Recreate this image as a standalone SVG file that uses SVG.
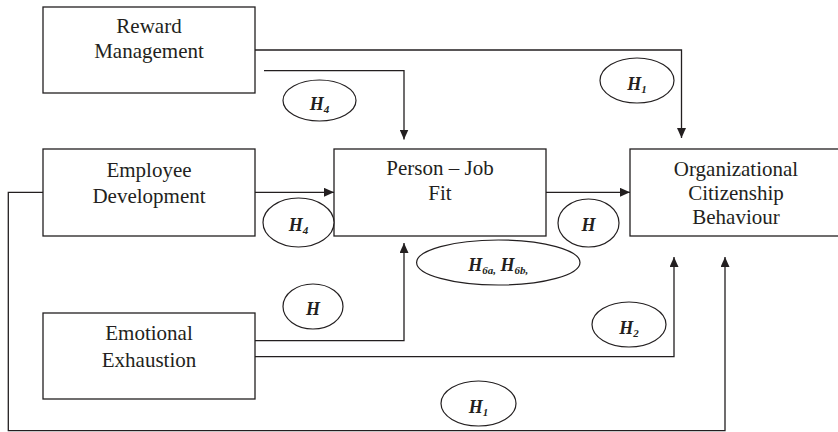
<svg xmlns="http://www.w3.org/2000/svg" width="838" height="432" viewBox="0 0 838 432">
<defs>
<style>
.box{fill:#fff;stroke:#231f20;stroke-width:1.3}
.lbl{font-family:'Liberation Serif',serif;font-size:21px;fill:#231f20;text-anchor:middle}
.hyp{fill:#fff;stroke:#231f20;stroke-width:1.2}
.ht{font-family:'Liberation Serif',serif;font-size:18px;font-weight:bold;font-style:italic;fill:#231f20;text-anchor:middle}
.sub{font-size:11px}
.conn{fill:none;stroke:#231f20;stroke-width:1.3}
</style>
<marker id="arr" markerUnits="userSpaceOnUse" markerWidth="10" markerHeight="9" refX="10" refY="4.5" orient="auto">
<path d="M0,0 L10,4.5 L0,9 z" fill="#231f20"/>
</marker>
</defs>
<rect width="838" height="432" fill="#fff"/>
<g id="connectors">
<path class="conn" d="M255,50 H681.5 V138" marker-end="url(#arr)"/>
<path class="conn" d="M264,70.7 H404 V139.5" marker-end="url(#arr)"/>
<path class="conn" d="M255,192.3 H334" marker-end="url(#arr)"/>
<path class="conn" d="M546,192.3 H630" marker-end="url(#arr)"/>
<path class="conn" d="M255,340.7 H404 V243" marker-end="url(#arr)"/>
<path class="conn" d="M255,356.7 H674 V257" marker-end="url(#arr)"/>
<path class="conn" d="M43,192.3 H8.3 V430.7 H725 V257" marker-end="url(#arr)"/>
</g>
<g id="node-reward">
<rect class="box" x="43" y="7" width="212" height="86"/>
<text class="lbl" x="149" y="33" font-family="Liberation Serif, serif">Reward</text>
<text class="lbl" x="149" y="58" font-family="Liberation Serif, serif">Management</text>
</g>
<g id="node-employee">
<rect class="box" x="43" y="149" width="212" height="87"/>
<text class="lbl" x="149" y="177">Employee</text>
<text class="lbl" x="149" y="203">Development</text>
</g>
<g id="node-pjfit">
<rect class="box" x="334" y="149" width="212" height="87"/>
<text class="lbl" x="440" y="175">Person – Job</text>
<text class="lbl" x="440" y="200">Fit</text>
</g>
<g id="node-ocb">
<rect class="box" x="630" y="149" width="215" height="87"/>
<text class="lbl" x="736" y="176">Organizational</text>
<text class="lbl" x="736" y="200">Citizenship</text>
<text class="lbl" x="736" y="224">Behaviour</text>
</g>
<g id="node-emotional">
<rect class="box" x="43" y="313" width="212" height="86"/>
<text class="lbl" x="149" y="340">Emotional</text>
<text class="lbl" x="149" y="367">Exhaustion</text>
</g>
<g id="hyp-h4-top">
<ellipse class="hyp" cx="319.5" cy="100.5" rx="36.5" ry="20.5"/>
<text class="ht" x="319.5" y="110">H<tspan class="sub" dy="3">4</tspan></text>
</g>
<g id="hyp-h1-top">
<ellipse class="hyp" cx="637" cy="80.5" rx="37" ry="22.5"/>
<text class="ht" x="637" y="90">H<tspan class="sub" dy="3">1</tspan></text>
</g>
<g id="hyp-h4-mid">
<ellipse class="hyp" cx="298.5" cy="222.5" rx="35.5" ry="24.5"/>
<text class="ht" x="298.5" y="231">H<tspan class="sub" dy="3">4</tspan></text>
</g>
<g id="hyp-h-mid">
<ellipse class="hyp" cx="588.5" cy="223" rx="30.5" ry="24"/>
<text class="ht" x="588.5" y="231">H</text>
</g>
<g id="hyp-h6">
<ellipse class="hyp" cx="498.3" cy="262.5" rx="81.7" ry="22.5"/>
<text class="ht" x="498.3" y="271">H<tspan class="sub" dy="3">6a,</tspan><tspan dy="-3"> H</tspan><tspan class="sub" dy="3">6b,</tspan></text>
</g>
<g id="hyp-h-low">
<ellipse class="hyp" cx="313" cy="306.5" rx="30" ry="22.5"/>
<text class="ht" x="313" y="315">H</text>
</g>
<g id="hyp-h2">
<ellipse class="hyp" cx="629" cy="324.5" rx="37" ry="22.5"/>
<text class="ht" x="629" y="334">H<tspan class="sub" dy="3">2</tspan></text>
</g>
<g id="hyp-h1-bottom">
<ellipse class="hyp" cx="478.5" cy="403.5" rx="37.5" ry="22.5"/>
<text class="ht" x="478.5" y="413">H<tspan class="sub" dy="3">1</tspan></text>
</g>
</svg>
